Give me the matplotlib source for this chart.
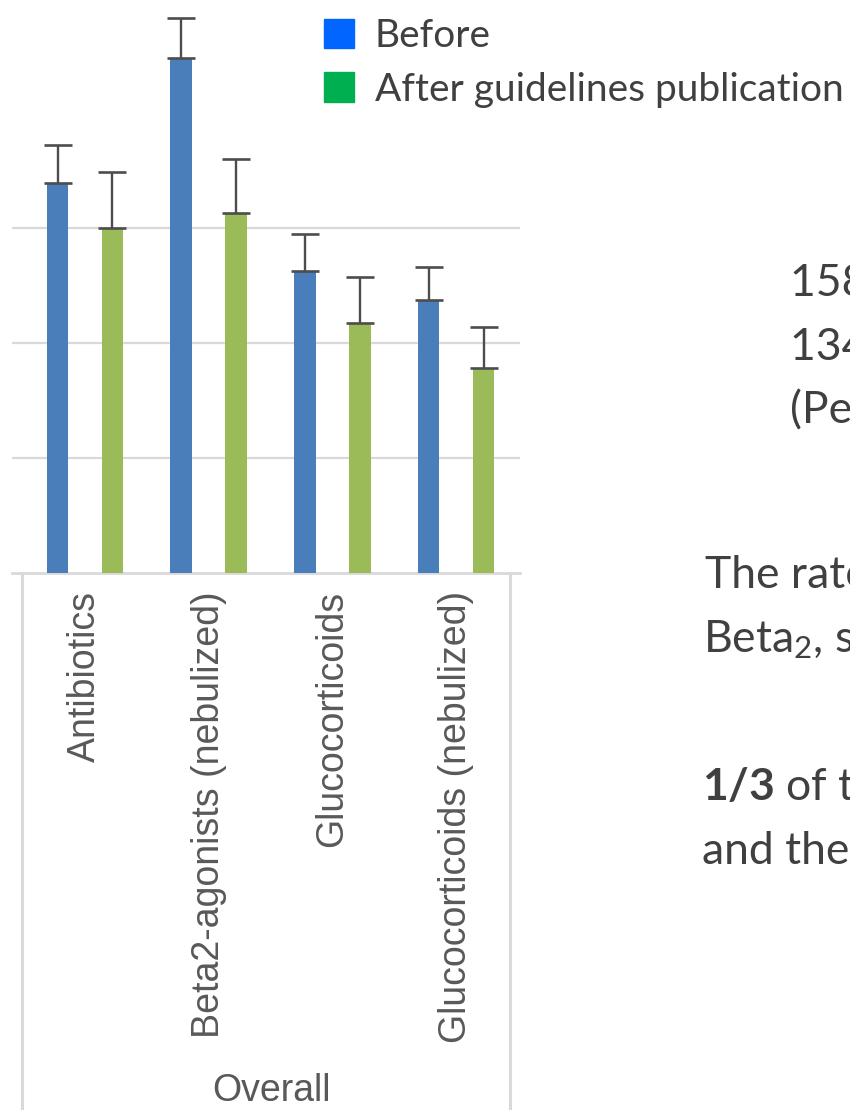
import matplotlib
matplotlib.use("Agg")
import matplotlib.pyplot as plt
import numpy as np
from matplotlib.lines import Line2D
from matplotlib.patches import Rectangle

# ---- data -------------------------------------------------------------
categories = ["Antibiotics", "Beta2-agonists (nebulized)",
              "Glucocorticoids", "Glucocorticoids (nebulized)"]
before_vals = [33.9, 44.8, 26.3, 23.7]
before_err = [3.3, 3.5, 3.2, 2.9]
after_vals = [30.0, 31.3, 21.7, 17.8]
after_err = [4.9, 4.7, 4.0, 3.6]
series_labels = ["Before", "After guidelines publication"]
group_label = "Overall"
grid_values = [10, 20, 30]

# ---- styling ----------------------------------------------------------
W, H = 850, 1110
DPI = 100
plt.rcParams["mathtext.fontset"] = "custom"
plt.rcParams["mathtext.rm"] = "Lato"
plt.rcParams["mathtext.it"] = "Lato:italic"
plt.rcParams["mathtext.bf"] = "Lato:bold"

bar_blue = "#4A7EBB"
bar_green = "#9BBB59"
legend_blue = "#0066FF"
legend_green = "#00B050"
err_color = "#4D4D4D"
frame_gray = "#D9D9D9"
label_gray = "#595959"
slide_text = "#404040"

fig = plt.figure(figsize=(W / DPI, H / DPI), dpi=DPI)
fig.patch.set_facecolor("white")


def fx(px):
    return px / W


def fy(py):
    return 1 - py / H


# chart axes: plot area from x=12..520 px, y=0..573 px
ax = fig.add_axes([fx(12), fy(573), fx(520) - fx(12), fy(0) - fy(573)])
x = np.arange(len(categories))
off = 0.222
bw = 0.174

ax.bar(x - off, before_vals, bw, color=bar_blue, zorder=3)
ax.bar(x + off, after_vals, bw, color=bar_green, zorder=3)
ax.errorbar(x - off, before_vals, yerr=[np.zeros(len(x)), before_err],
            fmt="none", ecolor=err_color, elinewidth=1.7, capsize=10,
            capthick=1.9, zorder=4)
ax.errorbar(x + off, after_vals, yerr=[np.zeros(len(x)), after_err],
            fmt="none", ecolor=err_color, elinewidth=1.7, capsize=10,
            capthick=1.9, zorder=4)

ax.set_xlim(-0.59, 3.517)
ax.set_ylim(0, 49.83)
ax.set_yticks(grid_values)
ax.yaxis.grid(True, color=frame_gray, linewidth=1.6, zorder=0)
ax.tick_params(axis="y", left=False, labelleft=False)
for s in ["left", "right", "top"]:
    ax.spines[s].set_visible(False)
ax.spines["bottom"].set_color(frame_gray)
ax.spines["bottom"].set_linewidth(2)
ax.set_facecolor("none")

ax.set_xticks(x)
ax.set_xticklabels(categories, rotation=90, va="top", ha="center",
                   fontsize=27, color=label_gray, family="Liberation Sans")
ax.tick_params(axis="x", length=0, pad=13)

# category table frame below the chart
for px in (22, 510):
    fig.add_artist(Line2D([fx(px), fx(px)], [fy(573), fy(1110)],
                          color=frame_gray, linewidth=2.2))
fig.text(fx(272), fy(1109), group_label, ha="center", va="bottom",
         fontsize=27, color=label_gray, family="Liberation Sans")

# legend
for (py0, py1), base, c, lab in zip([(19, 48), (72, 102)], [47, 101],
                                    [legend_blue, legend_green],
                                    series_labels):
    fig.add_artist(Rectangle((fx(324), fy(py1)), fx(354) - fx(324),
                             fy(py0) - fy(py1), color=c,
                             transform=fig.transFigure))
    fig.text(fx(375), fy(base), lab, ha="left", va="baseline",
             fontsize=28, color=slide_text, family="Lato")

# slide text beside the chart
fs = 32
fig.text(fx(790), fy(296), "158 patients before", ha="left",
         va="baseline", fontsize=fs, color=slide_text, family="Lato")
fig.text(fx(790), fy(360), "134 patients after", ha="left",
         va="baseline", fontsize=fs, color=slide_text, family="Lato")
fig.text(fx(790), fy(423), "(Period", ha="left",
         va="baseline", fontsize=fs, color=slide_text, family="Lato")
fig.text(fx(705), fy(588), "The rate of", ha="left",
         va="baseline", fontsize=fs, color=slide_text, family="Lato")
fig.text(fx(703), fy(652), r"Beta$_{\mathrm{2}}$, steroids", ha="left",
         va="baseline", fontsize=fs, color=slide_text, family="Lato")
fig.text(fx(702), fy(800), r"$\mathbf{1/3}$ of the", ha="left",
         va="baseline", fontsize=fs, color=slide_text, family="Lato")
fig.text(fx(702), fy(864), "and the", ha="left",
         va="baseline", fontsize=fs, color=slide_text, family="Lato")

fig.savefig("out.png", dpi=DPI, facecolor="white")
